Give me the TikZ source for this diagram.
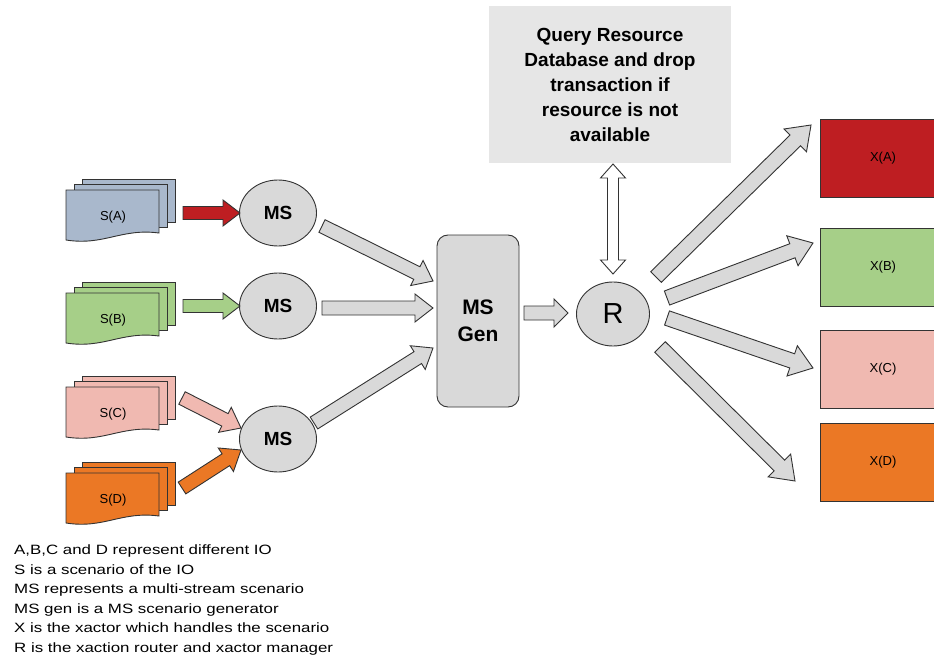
\documentclass[tikz,border=0pt]{standalone}
\usepackage{fontspec}
\setmainfont{Liberation Sans}
\newfontfamily\legendfont[FakeStretch=1.25]{Liberation Sans}
\usetikzlibrary{calc,shapes.geometric}

\definecolor{ioA}{HTML}{BE1E22}
\definecolor{ioAdoc}{HTML}{A9B8CC}
\definecolor{ioB}{HTML}{A6CF88}
\definecolor{ioC}{HTML}{F0B9B1}
\definecolor{ioD}{HTML}{EB7825}
\definecolor{boxgray}{HTML}{D9D9D9}
\definecolor{dbgray}{HTML}{E6E6E6}
\definecolor{edge}{HTML}{333333}

% block arrow: [style]{from}{to}{shaft half width}{head half width}{head length}
\newcommand\blockarrow[6][]{%
  \coordinate (ba-base) at ($(#3)!#6!(#2)$);
  \draw[#1] ($(#2)!#4!90:(#3)$) -- ($(ba-base)!#4!90:(#3)$)
    -- ($(ba-base)!#5!90:(#3)$) -- (#3)
    -- ($(ba-base)!#5!-90:(#3)$) -- ($(ba-base)!#4!-90:(#3)$)
    -- ($(#2)!#4!-90:(#3)$) -- cycle;
}
% two-headed block arrow: [style]{end1}{end2}{shaft half}{head half}{head length}
\newcommand\dblarrow[6][]{%
  \coordinate (da-b1) at ($(#2)!#6!(#3)$);
  \coordinate (da-b2) at ($(#3)!#6!(#2)$);
  \draw[#1] (#2) -- ($(da-b1)!#5!90:(#3)$) -- ($(da-b1)!#4!90:(#3)$)
    -- ($(da-b2)!#4!-90:(#2)$) -- ($(da-b2)!#5!-90:(#2)$) -- (#3)
    -- ($(da-b2)!#5!90:(#2)$) -- ($(da-b2)!#4!90:(#2)$)
    -- ($(da-b1)!#4!-90:(#3)$) -- ($(da-b1)!#5!-90:(#3)$) -- cycle;
}
% stack of three scenario sheets: {name}{x0}{y0}{fill}{label}
\newcommand\docstack[5]{%
  \foreach \k in {2,1}{%
    \draw[sheet,fill=#4] ({#2+8*\k},{#3-5.5*\k}) rectangle ({#2+93+8*\k},{#3+43-5.5*\k});
  }
  \draw[sheet,fill=#4] (#2,#3) -- ({#2+93},#3) -- ({#2+93},{#3+43})
    .. controls ({#2+55},{#3+38}) and ({#2+38},{#3+56}) .. (#2,{#3+50}) -- cycle;
  \node[doclabel] (#1) at ({#2+47},{#3+27}) {#5};
}

\begin{document}
\begin{tikzpicture}[x=1pt,y=-1pt,
  sheet/.style={draw=edge,line width=0.9pt},
  doclabel/.style={font=\fontsize{13}{15}\selectfont},
  msnode/.style={ellipse,draw=edge,line width=0.9pt,fill=boxgray,
    minimum width=77pt,minimum height=66pt,inner sep=0pt,
    font=\bfseries\fontsize{19}{21}\selectfont},
  xbox/.style={rectangle,draw=edge,line width=0.9pt,minimum width=126pt,
    minimum height=78pt,inner sep=0pt,font=\fontsize{13}{15}\selectfont},
  fat/.style={draw=edge,line width=0.9pt,line join=miter,fill=#1},
  fat/.default=boxgray]

\clip (0,0) rectangle (934,658);
\fill[white] (0,0) rectangle (934,658);

% scenario stacks
\docstack{sA}{66}{190}{ioAdoc}{S(A)}
\docstack{sB}{66}{293}{ioB}{S(B)}
\docstack{sC}{66}{387}{ioC}{S(C)}
\docstack{sD}{66}{473}{ioD}{S(D)}

% multi-stream nodes
\node[msnode] (msA) at (278,213) {MS};
\node[msnode] (msB) at (278,306) {MS};
\node[msnode] (msC) at (278,439) {MS};

% generator, router, resource database
\node[draw=edge,line width=0.9pt,fill=boxgray,rounded corners=11pt,
  minimum width=82pt,minimum height=172pt,inner sep=0pt,align=center,
  font=\bfseries\fontsize{21}{27}\selectfont] (gen) at (478,321) {MS\\Gen};
\node[ellipse,draw=edge,line width=0.9pt,fill=boxgray,minimum width=73pt,
  minimum height=64pt,inner sep=0pt,font=\fontsize{29}{30}\selectfont] (R) at (613,314) {R};
\node[fill=dbgray,minimum width=242pt,minimum height=157pt,inner sep=0pt,
  align=center,font=\bfseries\fontsize{19}{25}\selectfont] (db) at (610,84.5)
  {Query Resource\\Database and drop\\transaction if\\resource is not\\available};

% xactors
\node[xbox,fill=ioA] (xA) at (883,158) {X(A)};
\node[xbox,fill=ioB] (xB) at (883,267) {X(B)};
\node[xbox,fill=ioC] (xC) at (883,369) {X(C)};
\node[xbox,fill=ioD] (xD) at (883,462) {X(D)};

% arrow end points
\coordinate (sA-out) at (183,213);  \coordinate (msA-in) at (240,213);
\coordinate (sB-out) at (183,306);  \coordinate (msB-in) at (240,306);
\coordinate (sC-out) at (182,398);  \coordinate (msC-inC) at (241,428);
\coordinate (sD-out) at (182,488);  \coordinate (msC-inD) at (241,450);
\coordinate (msA-out) at (322,226); \coordinate (gen-inA) at (433,281);
\coordinate (msB-out) at (322,308); \coordinate (gen-inB) at (433,308);
\coordinate (msC-out) at (314,423); \coordinate (gen-inC) at (433,348);
\coordinate (gen-out) at (524,313); \coordinate (R-in) at (568,313);
\coordinate (db-port) at (613,164); \coordinate (R-port) at (613,274);
\coordinate (R-outA) at (656,277);  \coordinate (xA-in) at (811,125);
\coordinate (R-outB) at (667,298);  \coordinate (xB-in) at (813,243);
\coordinate (R-outC) at (667,318);  \coordinate (xC-in) at (813,368);
\coordinate (R-outD) at (660,347);  \coordinate (xD-in) at (795,481);

% scenario to multi-stream
\blockarrow[fat=ioA]{sA-out}{msA-in}{6.5pt}{13pt}{17pt}
\blockarrow[fat=ioB]{sB-out}{msB-in}{6.5pt}{13pt}{17pt}
\blockarrow[fat=ioC]{sC-out}{msC-inC}{7pt}{14pt}{18pt}
\blockarrow[fat=ioD]{sD-out}{msC-inD}{7pt}{14pt}{18pt}

% multi-stream to generator
\blockarrow[fat]{msA-out}{gen-inA}{7pt}{14pt}{18pt}
\blockarrow[fat]{msB-out}{gen-inB}{7pt}{14pt}{18pt}
\blockarrow[fat]{msC-out}{gen-inC}{7pt}{14pt}{18pt}

% generator to router, router to database
\blockarrow[fat]{gen-out}{R-in}{7pt}{14pt}{14pt}
\dblarrow[fat=white]{db-port}{R-port}{5.5pt}{12.5pt}{14pt}

% router to xactors
\blockarrow[fat]{R-outA}{xA-in}{7.5pt}{16pt}{22pt}
\blockarrow[fat]{R-outB}{xB-in}{7.5pt}{16pt}{22pt}
\blockarrow[fat]{R-outC}{xC-in}{7.5pt}{16pt}{22pt}
\blockarrow[fat]{R-outD}{xD-in}{7.5pt}{16pt}{22pt}

% legend
\node[anchor=north west,align=left,inner sep=0pt,
  font=\legendfont\fontsize{13.5}{19.5}\selectfont] (legend) at (14,545)
  {A,B,C and D represent different IO\\
   S is a scenario of the IO\\
   MS represents a multi-stream scenario\\
   MS gen is a MS scenario generator\\
   X is the xactor which handles the scenario\\
   R is the xaction router and xactor manager};
\end{tikzpicture}
\end{document}
